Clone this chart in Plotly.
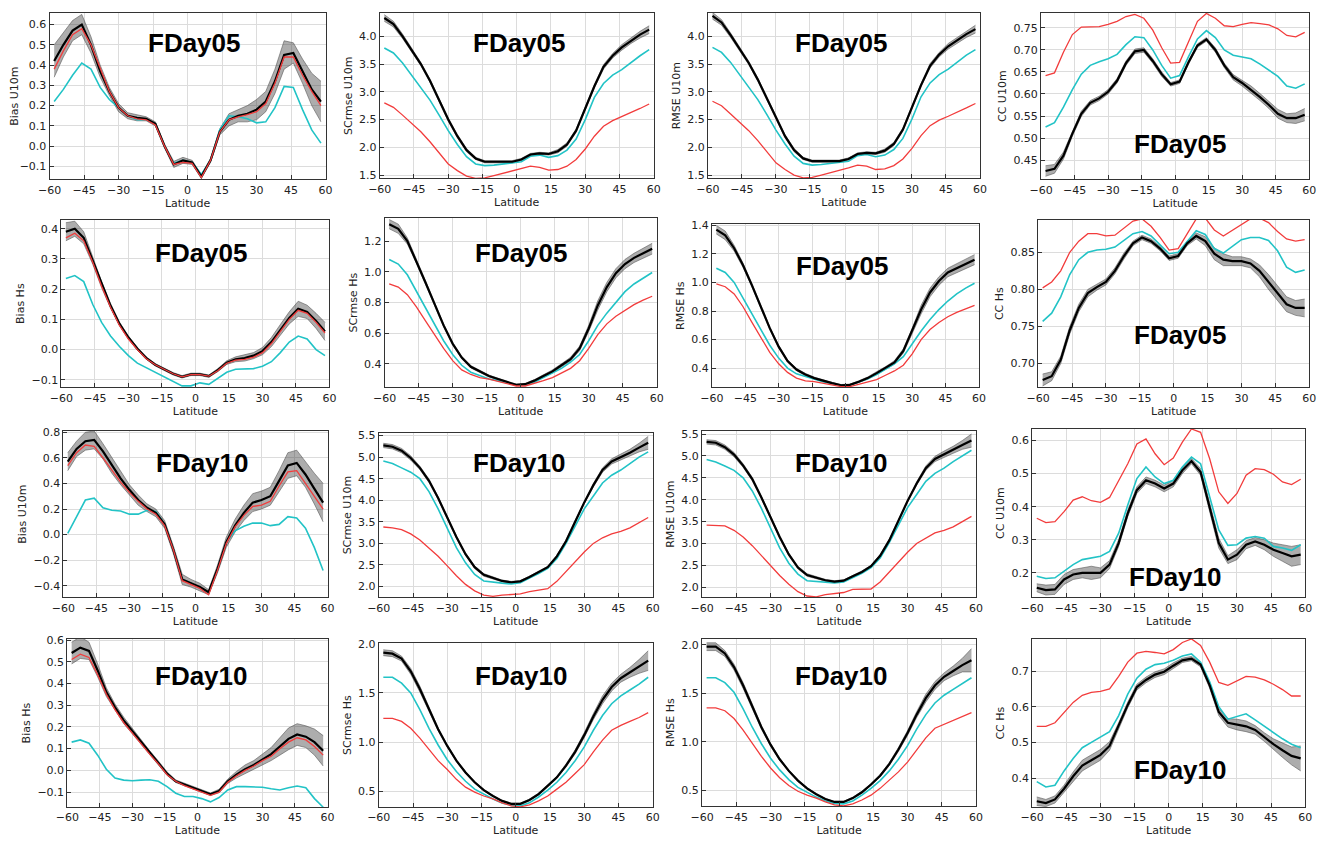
import plotly.graph_objects as go

# The page puts the figure 8 px in from the top-left corner, so the figure is
# sized 8 px smaller and reference pixel positions are shifted by OFF.
OFF = 8
W, H = 1328 - OFF, 841 - OFF

lat = [-58, -54, -50, -46, -42, -38, -34, -30, -26, -22, -18, -14, -10, -6, -2,
       2, 6, 10, 14, 18, 22, 26, 30, 34, 38, 42, 46, 50, 54, 58]

# ---------------- Row 1 : FDay05, U10m ----------------
bias_u10m_d05_ens = [0.42, 0.50, 0.57, 0.60, 0.50, 0.37, 0.27, 0.19, 0.15, 0.14, 0.135, 0.11, 0.0, -0.09, -0.07,
                     -0.08, -0.15, -0.07, 0.07, 0.13, 0.15, 0.16, 0.18, 0.22, 0.32, 0.45, 0.46, 0.37, 0.28, 0.22]
bias_u10m_d05_spr = [0.08, 0.06, 0.05, 0.05, 0.04, 0.03, 0.02, 0.02, 0.015, 0.015, 0.01, 0.01, 0.01, 0.015, 0.015,
                     0.01, 0.01, 0.01, 0.015, 0.03, 0.03, 0.04, 0.05, 0.05, 0.06, 0.07, 0.05, 0.06, 0.08, 0.1]
bias_u10m_d05_red = [0.38, 0.47, 0.55, 0.58, 0.50, 0.38, 0.27, 0.19, 0.15, 0.135, 0.13, 0.105, 0.0, -0.09, -0.08,
                     -0.085, -0.155, -0.07, 0.07, 0.13, 0.145, 0.155, 0.17, 0.21, 0.31, 0.44, 0.44, 0.35, 0.27, 0.20]
bias_u10m_d05_cyan = [0.22, 0.28, 0.35, 0.41, 0.38, 0.29, 0.23, 0.19, 0.15, 0.13, 0.13, 0.11, 0.0, -0.085, -0.07,
                      -0.08, -0.14, -0.07, 0.08, 0.15, 0.145, 0.135, 0.115, 0.12, 0.19, 0.295, 0.29, 0.18, 0.08, 0.015]

scrmse_u10m_d05_ens = [4.33, 4.22, 4.0, 3.75, 3.5, 3.2, 2.85, 2.5, 2.2, 1.95, 1.8, 1.74, 1.74, 1.74, 1.74,
                       1.78, 1.87, 1.89, 1.88, 1.93, 2.05, 2.3, 2.7, 3.1, 3.45, 3.65, 3.8, 3.92, 4.03, 4.12]
scrmse_u10m_d05_spr = [0.06, 0.05, 0.04, 0.04, 0.03, 0.03, 0.03, 0.03, 0.03, 0.03, 0.02, 0.02, 0.02, 0.02, 0.02,
                       0.02, 0.02, 0.02, 0.02, 0.03, 0.03, 0.03, 0.03, 0.03, 0.04, 0.04, 0.05, 0.05, 0.06, 0.07]
scrmse_u10m_d05_red = [2.8, 2.72, 2.58, 2.43, 2.28, 2.1, 1.9, 1.7, 1.58, 1.48, 1.44, 1.45, 1.49, 1.53, 1.57,
                       1.62, 1.66, 1.64, 1.59, 1.6, 1.66, 1.78, 1.97, 2.2, 2.38, 2.48, 2.55, 2.62, 2.7, 2.78]
scrmse_u10m_d05_cyan = [3.79, 3.7, 3.52, 3.3, 3.08, 2.85, 2.58, 2.3, 2.05, 1.83, 1.7, 1.67, 1.68, 1.7, 1.71,
                        1.74, 1.84, 1.86, 1.82, 1.85, 1.95, 2.15, 2.5, 2.9, 3.15, 3.3, 3.4, 3.53, 3.65, 3.76]

rmse_u10m_d05_ens = [4.37, 4.25, 4.02, 3.77, 3.52, 3.22, 2.87, 2.52, 2.2, 1.95, 1.8, 1.75, 1.75, 1.75, 1.75,
                     1.79, 1.88, 1.9, 1.89, 1.94, 2.06, 2.32, 2.72, 3.12, 3.47, 3.67, 3.82, 3.93, 4.04, 4.13]
rmse_u10m_d05_spr = [0.06, 0.05, 0.04, 0.04, 0.03, 0.03, 0.03, 0.03, 0.03, 0.03, 0.02, 0.02, 0.02, 0.02, 0.02,
                     0.02, 0.02, 0.02, 0.02, 0.03, 0.03, 0.03, 0.03, 0.03, 0.04, 0.04, 0.05, 0.05, 0.06, 0.07]
rmse_u10m_d05_red = [2.83, 2.75, 2.6, 2.45, 2.3, 2.12, 1.92, 1.72, 1.6, 1.5, 1.45, 1.46, 1.5, 1.54, 1.58,
                     1.63, 1.68, 1.66, 1.6, 1.61, 1.67, 1.79, 1.98, 2.21, 2.39, 2.49, 2.56, 2.63, 2.71, 2.79]
rmse_u10m_d05_cyan = [3.8, 3.71, 3.53, 3.31, 3.09, 2.86, 2.59, 2.31, 2.06, 1.84, 1.71, 1.68, 1.69, 1.71, 1.72,
                      1.75, 1.85, 1.87, 1.83, 1.86, 1.96, 2.16, 2.51, 2.91, 3.16, 3.31, 3.41, 3.54, 3.66, 3.76]

cc_u10m_d05_ens = [0.425, 0.43, 0.46, 0.51, 0.555, 0.58, 0.59, 0.605, 0.63, 0.67, 0.697, 0.70, 0.675, 0.645, 0.622,
                   0.628, 0.672, 0.71, 0.724, 0.70, 0.665, 0.638, 0.625, 0.61, 0.593, 0.575, 0.555, 0.545, 0.545, 0.553]
cc_u10m_d05_spr = [0.012, 0.01, 0.008, 0.006, 0.006, 0.005, 0.005, 0.005, 0.005, 0.005, 0.005, 0.005, 0.005, 0.005, 0.004,
                   0.004, 0.004, 0.004, 0.004, 0.005, 0.005, 0.006, 0.007, 0.008, 0.008, 0.008, 0.01, 0.01, 0.012, 0.014]
cc_u10m_d05_red = [0.642, 0.648, 0.695, 0.735, 0.752, 0.753, 0.753, 0.758, 0.765, 0.776, 0.781, 0.772, 0.745, 0.705, 0.67,
                   0.672, 0.72, 0.765, 0.783, 0.772, 0.755, 0.753, 0.758, 0.762, 0.76, 0.757, 0.748, 0.733, 0.73, 0.74]
cc_u10m_d05_cyan = [0.525, 0.535, 0.57, 0.61, 0.645, 0.665, 0.673, 0.68, 0.69, 0.712, 0.73, 0.728, 0.70, 0.665, 0.636,
                    0.642, 0.685, 0.725, 0.744, 0.728, 0.70, 0.688, 0.684, 0.68, 0.668, 0.655, 0.64, 0.618, 0.613, 0.623]

# ---------------- Row 2 : FDay05, Hs ----------------
bias_hs_d05_ens = [0.39, 0.40, 0.37, 0.295, 0.215, 0.145, 0.085, 0.04, 0.003, -0.028, -0.05, -0.065, -0.08, -0.09, -0.082,
                   -0.082, -0.088, -0.068, -0.043, -0.032, -0.028, -0.02, -0.005, 0.025, 0.065, 0.105, 0.135, 0.125, 0.095, 0.06]
bias_hs_d05_spr = [0.03, 0.025, 0.02, 0.012, 0.01, 0.008, 0.006, 0.005, 0.005, 0.004, 0.004, 0.004, 0.004, 0.004, 0.004,
                   0.004, 0.004, 0.005, 0.006, 0.008, 0.01, 0.01, 0.012, 0.015, 0.018, 0.02, 0.025, 0.022, 0.025, 0.03]
bias_hs_d05_red = [0.37, 0.385, 0.36, 0.29, 0.21, 0.14, 0.08, 0.035, 0.0, -0.03, -0.05, -0.065, -0.08, -0.09, -0.083,
                   -0.083, -0.088, -0.07, -0.045, -0.035, -0.032, -0.025, -0.01, 0.02, 0.06, 0.10, 0.13, 0.12, 0.09, 0.055]
bias_hs_d05_cyan = [0.235, 0.245, 0.225, 0.15, 0.09, 0.045, 0.01, -0.02, -0.045, -0.06, -0.075, -0.09, -0.105, -0.12, -0.12,
                    -0.11, -0.115, -0.095, -0.075, -0.065, -0.063, -0.063, -0.055, -0.04, -0.01, 0.025, 0.045, 0.035, 0.0, -0.02]

scrmse_hs_d05_ens = [1.31, 1.28, 1.2, 1.07, 0.93, 0.79, 0.65, 0.53, 0.44, 0.38, 0.35, 0.32, 0.3, 0.28, 0.262,
                     0.267, 0.29, 0.32, 0.35, 0.39, 0.43, 0.5, 0.63, 0.78, 0.9, 0.99, 1.05, 1.09, 1.12, 1.15]
scrmse_hs_d05_spr = [0.03, 0.03, 0.02, 0.015, 0.012, 0.01, 0.01, 0.01, 0.008, 0.008, 0.008, 0.006, 0.006, 0.005, 0.005,
                     0.005, 0.006, 0.008, 0.01, 0.01, 0.012, 0.015, 0.02, 0.03, 0.03, 0.03, 0.03, 0.03, 0.03, 0.035]
scrmse_hs_d05_red = [0.92, 0.9, 0.85, 0.77, 0.68, 0.59, 0.5, 0.42, 0.36, 0.33, 0.31, 0.3, 0.285, 0.27, 0.255,
                     0.255, 0.27, 0.29, 0.31, 0.34, 0.37, 0.42, 0.5, 0.59, 0.66, 0.71, 0.75, 0.785, 0.815, 0.84]
scrmse_hs_d05_cyan = [1.08, 1.05, 0.98, 0.87, 0.76, 0.65, 0.55, 0.46, 0.39, 0.345, 0.32, 0.3, 0.29, 0.275, 0.26,
                      0.262, 0.28, 0.31, 0.34, 0.37, 0.41, 0.46, 0.55, 0.65, 0.73, 0.8, 0.87, 0.92, 0.96, 0.995]

rmse_hs_d05_ens = [1.37, 1.33, 1.24, 1.12, 0.98, 0.83, 0.68, 0.55, 0.45, 0.39, 0.355, 0.33, 0.31, 0.295, 0.28,
                   0.283, 0.305, 0.33, 0.365, 0.4, 0.44, 0.52, 0.66, 0.81, 0.93, 1.01, 1.07, 1.1, 1.13, 1.16]
rmse_hs_d05_spr = [0.03, 0.03, 0.02, 0.015, 0.012, 0.01, 0.01, 0.01, 0.008, 0.008, 0.008, 0.006, 0.006, 0.005, 0.005,
                   0.005, 0.006, 0.008, 0.01, 0.01, 0.012, 0.015, 0.02, 0.03, 0.03, 0.03, 0.03, 0.03, 0.03, 0.035]
rmse_hs_d05_red = [0.99, 0.97, 0.92, 0.83, 0.72, 0.61, 0.51, 0.43, 0.37, 0.33, 0.31, 0.305, 0.295, 0.28, 0.27,
                   0.27, 0.285, 0.3, 0.32, 0.35, 0.38, 0.42, 0.5, 0.6, 0.67, 0.72, 0.76, 0.79, 0.815, 0.84]
rmse_hs_d05_cyan = [1.1, 1.07, 1.0, 0.89, 0.78, 0.67, 0.56, 0.47, 0.4, 0.36, 0.34, 0.32, 0.305, 0.29, 0.28,
                    0.28, 0.3, 0.325, 0.355, 0.39, 0.43, 0.48, 0.57, 0.66, 0.74, 0.81, 0.87, 0.92, 0.96, 0.995]

cc_hs_d05_ens = [0.678, 0.683, 0.705, 0.745, 0.775, 0.795, 0.803, 0.81, 0.825, 0.845, 0.862, 0.87, 0.865, 0.855, 0.842,
                 0.845, 0.862, 0.872, 0.865, 0.848, 0.84, 0.838, 0.838, 0.835, 0.825, 0.81, 0.795, 0.78, 0.775, 0.775]
cc_hs_d05_spr = [0.008, 0.006, 0.005, 0.005, 0.005, 0.005, 0.004, 0.004, 0.004, 0.004, 0.003, 0.003, 0.003, 0.003, 0.003,
                 0.003, 0.003, 0.004, 0.006, 0.008, 0.008, 0.006, 0.006, 0.006, 0.008, 0.01, 0.01, 0.01, 0.01, 0.012]
cc_hs_d05_red = [0.802, 0.81, 0.825, 0.85, 0.865, 0.875, 0.875, 0.872, 0.873, 0.882, 0.892, 0.895, 0.885, 0.87, 0.853,
                 0.855, 0.875, 0.895, 0.896, 0.88, 0.872, 0.88, 0.888, 0.895, 0.896, 0.89, 0.878, 0.868, 0.865, 0.867]
cc_hs_d05_cyan = [0.757, 0.768, 0.79, 0.82, 0.84, 0.85, 0.853, 0.854, 0.857, 0.866, 0.875, 0.878, 0.872, 0.86, 0.848,
                  0.85, 0.865, 0.879, 0.874, 0.855, 0.849, 0.858, 0.867, 0.87, 0.87, 0.866, 0.852, 0.83, 0.823, 0.826]

# ---------------- Row 3 : FDay10, U10m ----------------
bias_u10m_d10_ens = [0.57, 0.67, 0.73, 0.74, 0.65, 0.54, 0.44, 0.35, 0.27, 0.21, 0.17, 0.08, -0.12, -0.35, -0.38,
                     -0.41, -0.45, -0.27, -0.06, 0.07, 0.17, 0.25, 0.27, 0.30, 0.42, 0.54, 0.56, 0.47, 0.36, 0.25]
bias_u10m_d10_spr = [0.07, 0.06, 0.07, 0.07, 0.06, 0.06, 0.05, 0.04, 0.04, 0.03, 0.03, 0.03, 0.03, 0.04, 0.03,
                     0.03, 0.02, 0.03, 0.04, 0.05, 0.06, 0.07, 0.07, 0.07, 0.08, 0.1, 0.1, 0.1, 0.12, 0.15]
bias_u10m_d10_red = [0.54, 0.64, 0.70, 0.69, 0.60, 0.50, 0.41, 0.33, 0.26, 0.20, 0.16, 0.07, -0.12, -0.36, -0.39,
                     -0.42, -0.47, -0.28, -0.07, 0.06, 0.15, 0.22, 0.23, 0.26, 0.38, 0.49, 0.50, 0.40, 0.30, 0.20]
bias_u10m_d10_cyan = [0.01, 0.14, 0.27, 0.285, 0.21, 0.19, 0.185, 0.16, 0.16, 0.19, 0.18, 0.08, -0.12, -0.35, -0.38,
                      -0.42, -0.455, -0.28, -0.06, 0.03, 0.065, 0.09, 0.09, 0.07, 0.08, 0.14, 0.13, 0.05, -0.1, -0.28]

scrmse_u10m_d10_ens = [5.27, 5.24, 5.15, 4.98, 4.75, 4.45, 4.05, 3.6, 3.15, 2.75, 2.45, 2.27, 2.2, 2.13, 2.1,
                       2.12, 2.22, 2.33, 2.45, 2.7, 3.05, 3.5, 3.95, 4.35, 4.7, 4.9, 5.0, 5.1, 5.22, 5.33]
scrmse_u10m_d10_spr = [0.05, 0.05, 0.05, 0.05, 0.04, 0.04, 0.03, 0.03, 0.03, 0.03, 0.03, 0.03, 0.02, 0.02, 0.02,
                       0.02, 0.02, 0.02, 0.02, 0.03, 0.03, 0.03, 0.03, 0.04, 0.05, 0.06, 0.07, 0.08, 0.1, 0.15]
scrmse_u10m_d10_red = [3.38, 3.36, 3.32, 3.22, 3.08, 2.9, 2.7, 2.48, 2.25, 2.05, 1.9, 1.8, 1.77, 1.8, 1.82,
                       1.83, 1.88, 1.92, 1.95, 2.12, 2.35, 2.58, 2.8, 3.0, 3.13, 3.22, 3.28, 3.36, 3.48, 3.6]
scrmse_u10m_d10_cyan = [4.91, 4.85, 4.75, 4.65, 4.5, 4.2, 3.8, 3.35, 2.9, 2.55, 2.28, 2.13, 2.1, 2.08, 2.06,
                        2.09, 2.2, 2.3, 2.42, 2.65, 3.0, 3.4, 3.8, 4.1, 4.4, 4.58, 4.7, 4.85, 5.0, 5.12]

rmse_u10m_d10_ens = [5.32, 5.3, 5.2, 5.03, 4.78, 4.47, 4.05, 3.6, 3.15, 2.75, 2.45, 2.28, 2.22, 2.16, 2.13,
                     2.15, 2.25, 2.35, 2.48, 2.72, 3.07, 3.52, 3.97, 4.37, 4.72, 4.93, 5.04, 5.14, 5.25, 5.35]
rmse_u10m_d10_spr = [0.05, 0.05, 0.05, 0.05, 0.04, 0.04, 0.03, 0.03, 0.03, 0.03, 0.03, 0.03, 0.02, 0.02, 0.02,
                     0.02, 0.02, 0.02, 0.02, 0.03, 0.03, 0.03, 0.03, 0.04, 0.05, 0.06, 0.07, 0.08, 0.1, 0.15]
rmse_u10m_d10_red = [3.42, 3.41, 3.4, 3.3, 3.15, 2.95, 2.72, 2.5, 2.27, 2.07, 1.9, 1.8, 1.78, 1.83, 1.86,
                     1.88, 1.95, 1.96, 1.96, 2.12, 2.35, 2.58, 2.8, 3.0, 3.13, 3.24, 3.3, 3.38, 3.5, 3.62]
rmse_u10m_d10_cyan = [4.92, 4.86, 4.77, 4.67, 4.5, 4.2, 3.8, 3.35, 2.9, 2.55, 2.3, 2.15, 2.13, 2.12, 2.1,
                      2.12, 2.22, 2.32, 2.45, 2.67, 3.02, 3.42, 3.82, 4.12, 4.42, 4.6, 4.72, 4.87, 5.0, 5.13]

cc_u10m_d10_ens = [0.155, 0.148, 0.15, 0.18, 0.195, 0.2, 0.2, 0.2, 0.225, 0.29, 0.38, 0.45, 0.48, 0.47, 0.455,
                   0.47, 0.51, 0.538, 0.505, 0.4, 0.29, 0.24, 0.255, 0.285, 0.295, 0.285, 0.27, 0.26, 0.25, 0.255]
cc_u10m_d10_spr = [0.012, 0.015, 0.015, 0.015, 0.015, 0.015, 0.02, 0.015, 0.012, 0.01, 0.01, 0.01, 0.01, 0.01, 0.01,
                   0.01, 0.01, 0.008, 0.01, 0.012, 0.015, 0.012, 0.015, 0.012, 0.012, 0.015, 0.02, 0.025, 0.03, 0.03]
cc_u10m_d10_red = [0.365, 0.352, 0.355, 0.385, 0.42, 0.43, 0.418, 0.413, 0.428, 0.48, 0.53, 0.59, 0.605, 0.56, 0.527,
                   0.547, 0.595, 0.635, 0.625, 0.545, 0.445, 0.41, 0.44, 0.495, 0.515, 0.512, 0.498, 0.475, 0.467, 0.483]
cc_u10m_d10_cyan = [0.19, 0.183, 0.185, 0.205, 0.225, 0.24, 0.245, 0.25, 0.265, 0.32, 0.405, 0.485, 0.52, 0.49, 0.47,
                    0.48, 0.52, 0.55, 0.53, 0.43, 0.33, 0.283, 0.285, 0.305, 0.31, 0.305, 0.28, 0.275, 0.268, 0.285]

# ---------------- Row 4 : FDay10, Hs ----------------
bias_hs_d10_ens = [0.54, 0.565, 0.55, 0.46, 0.36, 0.29, 0.23, 0.18, 0.13, 0.08, 0.035, -0.015, -0.05, -0.065, -0.08,
                   -0.095, -0.11, -0.095, -0.05, -0.02, 0.005, 0.025, 0.05, 0.075, 0.11, 0.145, 0.165, 0.155, 0.13, 0.09]
bias_hs_d10_spr = [0.05, 0.05, 0.04, 0.03, 0.02, 0.015, 0.015, 0.012, 0.01, 0.01, 0.008, 0.008, 0.006, 0.006, 0.006,
                   0.006, 0.006, 0.008, 0.01, 0.015, 0.02, 0.02, 0.025, 0.03, 0.04, 0.05, 0.05, 0.05, 0.06, 0.07]
bias_hs_d10_red = [0.51, 0.535, 0.52, 0.44, 0.35, 0.28, 0.22, 0.17, 0.12, 0.075, 0.03, -0.02, -0.05, -0.07, -0.085,
                   -0.1, -0.115, -0.1, -0.055, -0.025, 0.0, 0.02, 0.045, 0.065, 0.1, 0.13, 0.15, 0.14, 0.11, 0.07]
bias_hs_d10_cyan = [0.13, 0.14, 0.125, 0.07, 0.005, -0.035, -0.045, -0.048, -0.045, -0.043, -0.05, -0.075, -0.105, -0.12, -0.12,
                    -0.13, -0.145, -0.125, -0.09, -0.075, -0.075, -0.075, -0.078, -0.085, -0.09, -0.08, -0.072, -0.08, -0.13, -0.17]

scrmse_hs_d10_ens = [1.91, 1.9, 1.85, 1.72, 1.54, 1.33, 1.13, 0.96, 0.81, 0.69, 0.59, 0.51, 0.45, 0.4, 0.37,
                     0.37, 0.41, 0.47, 0.55, 0.64, 0.76, 0.9, 1.07, 1.26, 1.43, 1.56, 1.65, 1.71, 1.77, 1.83]
scrmse_hs_d10_spr = [0.03, 0.03, 0.025, 0.03, 0.03, 0.02, 0.015, 0.012, 0.01, 0.01, 0.008, 0.008, 0.006, 0.006, 0.006,
                     0.006, 0.008, 0.01, 0.01, 0.012, 0.015, 0.02, 0.025, 0.03, 0.04, 0.04, 0.04, 0.05, 0.07, 0.1]
scrmse_hs_d10_red = [1.24, 1.24, 1.21, 1.14, 1.04, 0.92, 0.81, 0.72, 0.62, 0.54, 0.49, 0.45, 0.42, 0.38, 0.35,
                     0.34, 0.36, 0.4, 0.45, 0.52, 0.59, 0.68, 0.77, 0.9, 1.02, 1.12, 1.17, 1.21, 1.25, 1.3]
scrmse_hs_d10_cyan = [1.66, 1.66, 1.6, 1.5, 1.33, 1.14, 0.97, 0.82, 0.7, 0.6, 0.52, 0.47, 0.42, 0.38, 0.355,
                      0.35, 0.38, 0.44, 0.51, 0.59, 0.69, 0.81, 0.95, 1.12, 1.27, 1.39, 1.47, 1.53, 1.59, 1.66]

rmse_hs_d10_ens = [1.98, 1.98, 1.91, 1.77, 1.58, 1.36, 1.15, 0.97, 0.82, 0.7, 0.6, 0.52, 0.46, 0.41, 0.38,
                   0.38, 0.42, 0.48, 0.56, 0.65, 0.77, 0.92, 1.09, 1.28, 1.45, 1.58, 1.67, 1.73, 1.79, 1.84]
rmse_hs_d10_spr = [0.04, 0.04, 0.03, 0.03, 0.03, 0.025, 0.02, 0.015, 0.012, 0.01, 0.008, 0.008, 0.006, 0.006, 0.006,
                   0.006, 0.008, 0.01, 0.01, 0.012, 0.015, 0.02, 0.025, 0.03, 0.04, 0.04, 0.04, 0.05, 0.07, 0.12]
rmse_hs_d10_red = [1.35, 1.35, 1.32, 1.24, 1.12, 0.98, 0.85, 0.73, 0.63, 0.55, 0.49, 0.45, 0.42, 0.38, 0.35,
                   0.34, 0.36, 0.4, 0.45, 0.52, 0.6, 0.69, 0.79, 0.92, 1.04, 1.14, 1.18, 1.22, 1.26, 1.3]
rmse_hs_d10_cyan = [1.66, 1.66, 1.61, 1.51, 1.34, 1.15, 0.98, 0.83, 0.71, 0.61, 0.53, 0.48, 0.43, 0.39, 0.365,
                    0.36, 0.39, 0.45, 0.52, 0.6, 0.7, 0.82, 0.96, 1.13, 1.28, 1.4, 1.48, 1.54, 1.6, 1.66]

cc_hs_d10_ens = [0.335, 0.33, 0.34, 0.37, 0.405, 0.435, 0.45, 0.465, 0.49, 0.545, 0.605, 0.655, 0.675, 0.69, 0.698,
                 0.715, 0.73, 0.735, 0.718, 0.66, 0.585, 0.555, 0.55, 0.545, 0.535, 0.515, 0.495, 0.478, 0.462, 0.455]
cc_hs_d10_spr = [0.012, 0.01, 0.01, 0.01, 0.012, 0.015, 0.015, 0.015, 0.012, 0.01, 0.008, 0.008, 0.008, 0.008, 0.008,
                 0.008, 0.006, 0.006, 0.006, 0.008, 0.01, 0.012, 0.015, 0.015, 0.012, 0.012, 0.015, 0.02, 0.025, 0.035]
cc_hs_d10_red = [0.545, 0.545, 0.555, 0.585, 0.612, 0.632, 0.64, 0.643, 0.65, 0.685, 0.725, 0.75, 0.755, 0.752, 0.748,
                 0.76, 0.78, 0.79, 0.772, 0.725, 0.668, 0.66, 0.672, 0.685, 0.683, 0.675, 0.663, 0.648, 0.63, 0.63]
cc_hs_d10_cyan = [0.39, 0.375, 0.38, 0.42, 0.455, 0.485, 0.5, 0.515, 0.53, 0.575, 0.635, 0.68, 0.705, 0.718, 0.722,
                  0.73, 0.742, 0.748, 0.725, 0.67, 0.6, 0.565, 0.572, 0.58, 0.563, 0.545, 0.528, 0.51, 0.495, 0.485]

x_tick_vals = [-60, -45, -30, -15, 0, 15, 30, 45, 60]

# (series, y title, day label, y range, y ticks (first, last, step, decimals), box px (l,t,r,b), label px (x,y))
panels = [
    ("bias_u10m_d05", "Bias U10m", "FDay05", [-0.164, 0.657], (-0.1, 0.6, 0.1, 1), (38, 8, 318, 176), (185, 38)),
    ("scrmse_u10m_d05", "SCrmse U10m", "FDay05", [1.44, 4.42], (1.5, 4.0, 0.5, 1), (373, 8, 651, 175), (515, 38)),
    ("rmse_u10m_d05", "RMSE U10m", "FDay05", [1.44, 4.42], (1.5, 4.0, 0.5, 1), (706, 8, 982, 175), (842, 38)),
    ("cc_u10m_d05", "CC U10m", "FDay05", [0.406, 0.784], (0.45, 0.75, 0.05, 2), (1044, 8, 1316, 176), (1185, 140)),
    ("bias_hs_d05", "Bias Hs", "FDay05", [-0.125, 0.429], (-0.1, 0.4, 0.1, 1), (50, 217, 322, 386), (192, 250)),
    ("scrmse_hs_d05", "SCrmse Hs", "FDay05", [0.246, 1.35], (0.4, 1.2, 0.2, 1), (378, 215, 654, 386), (517, 250)),
    ("rmse_hs_d05", "RMSE Hs", "FDay05", [0.265, 1.41], (0.4, 1.4, 0.2, 1), (710, 221, 981, 386), (843, 263)),
    ("cc_hs_d05", "CC Hs", "FDay05", [0.668, 0.8935], (0.70, 0.85, 0.05, 2), (1041, 217, 1316, 386), (1185, 333)),
    ("bias_u10m_d10", "Bias U10m", "FDay10", [-0.49, 0.81], (-0.4, 0.8, 0.2, 1), (52, 430, 320, 598), (193, 462)),
    ("scrmse_u10m_d10", "SCrmse U10m", "FDay10", [1.75, 5.56], (2.0, 5.5, 0.5, 1), (372, 432, 650, 598), (515, 462)),
    ("rmse_u10m_d10", "RMSE U10m", "FDay10", [1.77, 5.57], (2.0, 5.5, 0.5, 1), (700, 430, 978, 598), (842, 462)),
    ("cc_u10m_d10", "CC U10m", "FDay10", [0.126, 0.635], (0.2, 0.6, 0.1, 1), (1035, 428, 1312, 598), (1180, 577)),
    ("bias_hs_d10", "Bias Hs", "FDay10", [-0.17, 0.605], (-0.1, 0.6, 0.1, 1), (56, 640, 320, 810), (192, 677)),
    ("scrmse_hs_d10", "SCrmse Hs", "FDay10", [0.335, 2.01], (0.5, 2.0, 0.5, 1), (372, 644, 650, 810), (517, 677)),
    ("rmse_hs_d10", "RMSE Hs", "FDay10", [0.335, 2.06], (0.5, 2.0, 0.5, 1), (700, 640, 978, 809), (842, 677)),
    ("cc_hs_d10", "CC Hs", "FDay10", [0.318, 0.79], (0.4, 0.7, 0.1, 1), (1035, 640, 1312, 810), (1185, 772)),
]

data = globals()


def fmt(v, nd):
    s = f"{v:.{nd}f}"
    return s.replace("-", "\u2212")


def px(x):
    return min(1.0, max(0.0, (x - OFF) / W))


def py(y):
    return min(1.0, max(0.0, 1 - (y - OFF) / H))


fig = go.Figure()
annotations = []
layout = {}
TICK_FONT = dict(family="DejaVu Sans", size=11, color="#222")

for i, (key, ytitle, label, yrange, yt, box, lpos) in enumerate(panels, start=1):
    ens = data[key + "_ens"]
    spr = data[key + "_spr"]
    red = data[key + "_red"]
    cyan = data[key + "_cyan"]
    lo = [m - s for m, s in zip(ens, spr)]
    hi = [m + s for m, s in zip(ens, spr)]
    xa, ya = f"x{i}", f"y{i}"
    common = dict(xaxis=xa, yaxis=ya, showlegend=False, hoverinfo="skip", mode="lines")
    fig.add_trace(go.Scatter(x=lat, y=lo, line=dict(color="rgba(80,80,80,0.7)", width=0.8), **common))
    fig.add_trace(go.Scatter(x=lat, y=hi, line=dict(color="rgba(80,80,80,0.7)", width=0.8),
                             fill="tonexty", fillcolor="rgba(50,50,50,0.4)", **common))
    fig.add_trace(go.Scatter(x=lat, y=cyan, line=dict(color="#22c3c6", width=1.6), **common))
    fig.add_trace(go.Scatter(x=lat, y=ens, line=dict(color="#000000", width=2.2), **common))
    fig.add_trace(go.Scatter(x=lat, y=red, line=dict(color="#f23c3c", width=1.3), **common))

    l, t, r, b = box
    first, last, step, nd = yt
    n = int(round((last - first) / step)) + 1
    yvals = [round(first + k * step, 4) for k in range(n)]
    ytext = [fmt(v, nd) for v in yvals]
    axis_common = dict(showline=True, mirror=True, linecolor="#333", linewidth=1,
                       showgrid=True, gridcolor="#dcdcdc", gridwidth=1, zeroline=False,
                       ticks="inside", ticklen=4, tickcolor="#333", tickfont=TICK_FONT)
    sfx = "" if i == 1 else str(i)
    layout["xaxis" + sfx] = dict(domain=[px(l), px(r)], anchor=ya, range=[-60, 60],
                                 tickvals=x_tick_vals, ticktext=[fmt(v, 0) for v in x_tick_vals],
                                 title=dict(text="Latitude", font=TICK_FONT, standoff=2), **axis_common)
    layout["yaxis" + sfx] = dict(domain=[py(b), py(t)], anchor=xa, range=yrange,
                                 tickvals=yvals, ticktext=ytext,
                                 title=dict(text=ytitle, font=TICK_FONT, standoff=4), **axis_common)
    annotations.append(dict(text=f"<b>{label}</b>", x=px(lpos[0]), y=py(lpos[1]), xref="paper", yref="paper",
                            showarrow=False, xanchor="center", yanchor="middle",
                            font=dict(family="Liberation Sans, Arial", size=26, color="#000")))

fig.update_layout(width=W, height=H, margin=dict(l=0, r=0, t=0, b=0), paper_bgcolor="white",
                  plot_bgcolor="white", annotations=annotations, **layout)

fig.write_html("out.html")
